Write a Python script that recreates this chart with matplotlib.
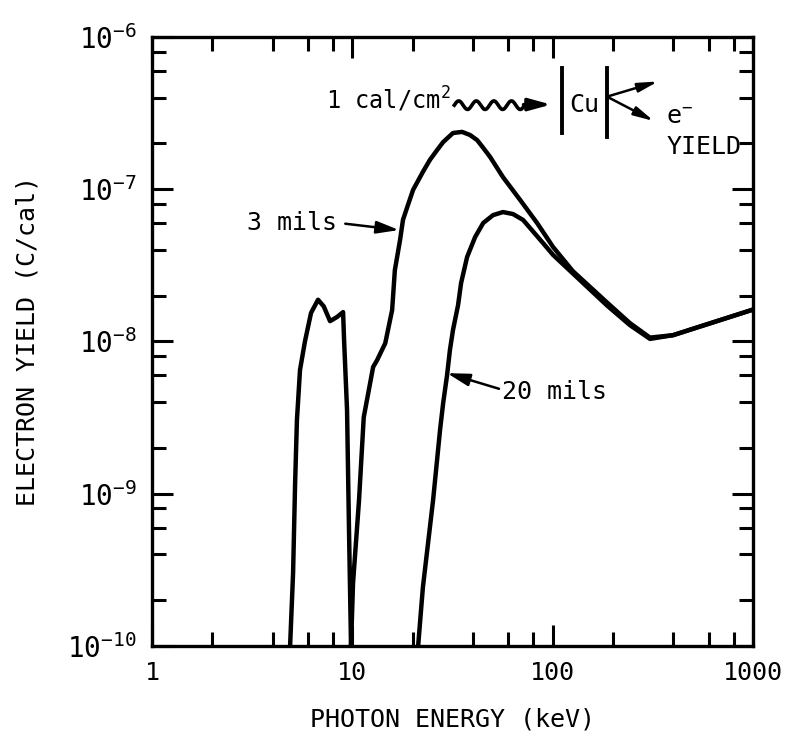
import numpy as np
import matplotlib
matplotlib.use("Agg")
import matplotlib.pyplot as plt

plt.rcParams["font.family"] = ["DejaVu Sans Mono"]
plt.rcParams["mathtext.fontset"] = "custom"
plt.rcParams["mathtext.rm"] = "DejaVu Sans Mono"
plt.rcParams["mathtext.it"] = "DejaVu Sans Mono"
plt.rcParams["mathtext.default"] = "rm"

# photon energy (keV) and electron yield (C/cal)
energy_3mil = [4.89, 5.06, 5.18, 5.29, 5.48, 5.8, 6.22, 6.74, 7.2, 7.74, 8.4, 8.99,
               9.1, 9.41, 9.63, 9.85, 10.08, 10.8, 11.4, 12.7, 13.3, 14.6, 15.8,
               16.3, 17.3, 17.9, 18.8, 20.1, 22.5, 24.4, 26.5, 28.4, 31.8, 35.3,
               38.7, 42.0, 45.0, 48.7, 56.5, 68.8, 83.6, 100.5, 126, 187, 243,
               306, 399, 540, 1000]
yield_3mil = [1e-10, 3.0e-10, 1.17e-9, 3.05e-9, 6.5e-9, 1.0e-8, 1.54e-8, 1.88e-8,
              1.7e-8, 1.36e-8, 1.45e-8, 1.56e-8, 1.0e-8, 3.54e-9, 5.5e-10, 1e-10,
              2.59e-10, 9.1e-10, 3.18e-9, 6.8e-9, 7.55e-9, 9.75e-9, 1.61e-8,
              2.94e-8, 4.63e-8, 6.3e-8, 7.64e-8, 9.9e-8, 1.3e-7, 1.56e-7, 1.81e-7,
              2.04e-7, 2.34e-7, 2.38e-7, 2.27e-7, 2.10e-7, 1.87e-7, 1.63e-7,
              1.20e-7, 8.5e-8, 6.0e-8, 4.17e-8, 2.9e-8, 1.8e-8, 1.32e-8, 1.06e-8,
              1.1e-8, 1.25e-8, 1.62e-8]

energy_20mil = [21.3, 22.5, 25.3, 27.4, 28.4, 29.7, 30.7, 31.8, 33.7, 34.9, 37.4,
                41.0, 45.0, 50.4, 56.5, 63.4, 71.2, 89.5, 100.5, 126, 187, 243,
                306, 399, 540, 1000]
yield_20mil = [1e-10, 2.43e-10, 9.1e-10, 2.62e-9, 3.94e-9, 6.0e-9, 8.8e-9,
               1.19e-8, 1.73e-8, 2.42e-8, 3.59e-8, 4.85e-8, 6.0e-8, 6.76e-8,
               7.08e-8, 6.87e-8, 6.28e-8, 4.43e-8, 3.7e-8, 2.8e-8, 1.72e-8,
               1.28e-8, 1.04e-8, 1.1e-8, 1.25e-8, 1.62e-8]

x_ticks = [1, 10, 100, 1000]
x_ticklabels = ["1", "10", "100", "1000"]
y_ticks = [1e-10, 1e-9, 1e-8, 1e-7, 1e-6]
y_ticklabels = ["$10^{-10}$", "$10^{-9}$", "$10^{-8}$", "$10^{-7}$", "$10^{-6}$"]

fig = plt.figure(figsize=(7.9, 7.35), dpi=100)
ax = fig.add_axes([0.1924, 0.1211, 0.7608, 0.8286])

ax.plot(energy_3mil, yield_3mil, color="black", lw=3.2, solid_joinstyle="round")
ax.plot(energy_20mil, yield_20mil, color="black", lw=3.2, solid_joinstyle="round")

ax.set_xscale("log")
ax.set_yscale("log")
ax.set_xlim(1, 1000)
ax.set_ylim(1e-10, 1e-6)

ax.set_xticks(x_ticks)
ax.set_xticklabels(x_ticklabels, fontsize=18)
ax.set_yticks(y_ticks)
ax.set_yticklabels(y_ticklabels, fontsize=20)
ax.xaxis.set_minor_locator(matplotlib.ticker.LogLocator(base=10, subs=[2, 4, 6, 8]))
ax.yaxis.set_minor_locator(matplotlib.ticker.LogLocator(base=10, subs=[2, 4, 6, 8]))
ax.xaxis.set_minor_formatter(matplotlib.ticker.NullFormatter())
ax.yaxis.set_minor_formatter(matplotlib.ticker.NullFormatter())
ax.tick_params(which="major", direction="in", length=15, width=2.2,
               top=True, right=True, pad=11)
ax.tick_params(which="minor", direction="in", length=10, width=2.2,
               top=True, right=True)
for s in ax.spines.values():
    s.set_linewidth(2.4)

ax.set_xlabel("PHOTON ENERGY (keV)", fontsize=18, labelpad=16)
ax.set_ylabel("ELECTRON YIELD (C/cal)", fontsize=18, labelpad=20)

arrow_kw = dict(arrowstyle="-|>,head_length=0.8,head_width=0.22",
                color="black", lw=1.8, shrinkA=0, shrinkB=0, mutation_scale=17)

# curve labels
ax.annotate("3 mils", xy=(0.411, 0.683), xytext=(0.158, 0.695),
            xycoords="axes fraction", textcoords="axes fraction",
            fontsize=18, va="center", ha="left",
            arrowprops=dict(arrow_kw, shrinkA=4, relpos=(1.0, 0.5)))
ax.annotate("20 mils", xy=(0.491, 0.448), xytext=(0.582, 0.417),
            xycoords="axes fraction", textcoords="axes fraction",
            fontsize=18, va="center", ha="left",
            arrowprops=dict(arrow_kw, relpos=(0.0, 0.6)))

# inset sketch: 1 cal/cm^2 -> |Cu| -> e- yield
ax.text(0.289, 0.897, "1 cal/cm$^2$", transform=ax.transAxes, fontsize=17,
        va="center", ha="left")
wx = np.linspace(0.503, 0.62, 200)
wy = 0.888 + 0.007 * np.sin((wx - 0.503) / 0.117 * 2 * np.pi * 4)
ax.plot(wx, wy, color="black", lw=2.6, transform=ax.transAxes, clip_on=False)
ax.annotate("", xy=(0.664, 0.889), xytext=(0.618, 0.889),
            xycoords="axes fraction", textcoords="axes fraction",
            arrowprops=dict(arrow_kw, lw=2.4))
ax.plot([0.682, 0.682], [0.842, 0.949], color="black", lw=2.8,
        transform=ax.transAxes)
ax.plot([0.757, 0.757], [0.836, 0.949], color="black", lw=2.8,
        transform=ax.transAxes)
ax.text(0.719, 0.888, "Cu", transform=ax.transAxes, fontsize=18,
        va="center", ha="center")
for tip in [(0.842, 0.927), (0.835, 0.862)]:
    ax.annotate("", xy=tip, xytext=(0.757, 0.902),
                xycoords="axes fraction", textcoords="axes fraction",
                arrowprops=dict(arrow_kw,
                                arrowstyle="-|>,head_length=0.7,head_width=0.16"))
ax.text(0.856, 0.868, "e$^{-}$", transform=ax.transAxes, fontsize=18,
        va="center", ha="left")
ax.text(0.856, 0.819, "YIELD", transform=ax.transAxes, fontsize=18,
        va="center", ha="left")

fig.savefig("out.png", dpi=100)
